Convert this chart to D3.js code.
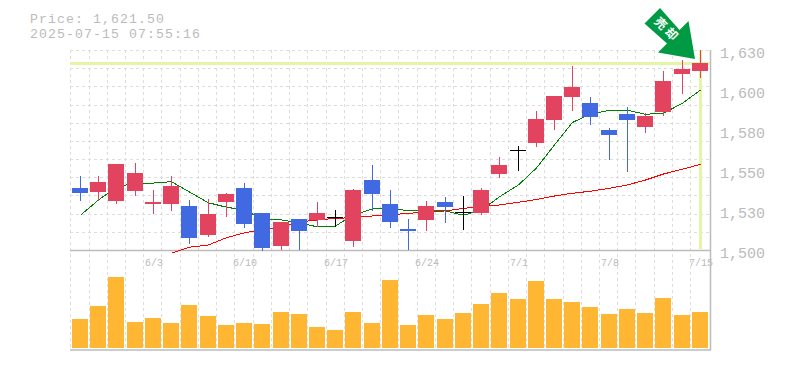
<!DOCTYPE html>
<html>
<head>
<meta charset="utf-8">
<script src="https://cdn.jsdelivr.net/npm/d3@7"></script>
<style>
html,body{margin:0;padding:0;background:#fff;}
svg{display:block;}
text{font-family:"Liberation Mono",monospace;fill:#bbb;}
</style>
</head>
<body>
<div id="chart"></div>
<script>
var priceLabel="Price: 1,621.50";
var timeLabel="2025-07-15 07:55:16";
var lastPrice=1621.5;

var opens =[1540.3,1537.7,1531.9,1538.4,1529.9,1529.9,1528.6,1509.8,1531.2,1540.3,1524,1502.6,1520.2,1519.5,1521.6,1505.9,1545.5,1529.9,1513.7,1519.5,1531.2,1524.7,1524,1549.4,1565,1569.6,1584.5,1599.5,1595.6,1578,1588.4,1580,1589.7,1614.4,1616.4];
var highs =[1548.1,1548.1,1555.9,1556.5,1539,1548.1,1532.5,1533.2,1537.1,1543.5,1524,1518.2,1520.2,1531.2,1526,1539.7,1555.3,1539,1520.2,1531.9,1534.5,1535.1,1540.3,1560.5,1567.6,1590.4,1600.1,1619.6,1599.5,1579.3,1593,1589.1,1616.4,1623.5,1630];
var lows  =[1531.9,1531.9,1529.9,1535.1,1523.4,1525.4,1503.9,1508.5,1521.4,1514.3,1499.5,1500,1500,1515,1515,1502,1525.4,1514.3,1500,1512.4,1517.6,1513,1522.7,1546.8,1551.4,1567,1578,1590.4,1581.3,1558.5,1550.7,1576.1,1587.1,1601.4,1611.8];
var closes=[1537.1,1544.2,1555.9,1550.1,1531.2,1541.6,1507.8,1523.4,1536.4,1516.9,1501.3,1518.2,1512.4,1524,1521.6,1539,1536.4,1518.2,1512.4,1528.6,1528,1524.7,1539,1555.3,1565,1585.2,1600.1,1606,1586.5,1574.8,1584.5,1587.1,1609.9,1617.7,1621.5];
var maShort=[1522.6,1532.5,1541,1543.5,1543.5,1544.4,1537.7,1530.7,1527.8,1526,1520.2,1519.5,1517.7,1515,1515.6,1522.8,1526.7,1527.3,1525.4,1526,1525.4,1522.6,1526,1534.6,1542.3,1553.3,1568.3,1582.9,1588.4,1590.8,1590.8,1588.2,1588.9,1595.4,1604];
var maLong=[null,null,null,null,null,1497.9,1501.8,1503.3,1508,1511.2,1513,1515.2,1518.2,1519.5,1520.6,1521,1522.1,1522.8,1523.9,1524.5,1525.4,1527.1,1528.2,1529.3,1531,1532.8,1535.1,1536.9,1538.2,1540.1,1542.3,1545.5,1549.4,1552.5,1555.7];
var volumes=[29,42,71,26,30,25,43,32,23,25,24,36,34,21,18,36,25,68,23,33,29,35,44,55,49,67,49,46,41,34,39,35,50,33,36];
var dateLabels=["6/3","6/10","6/17","6/24","7/1","7/8","7/15"];
var dateIndex=[4,9,14,19,24,29,34];
var priceTicks=[1500,1526,1552,1578,1604,1630];

var width=785,height=370;
var plotLeft=70,plotRight=710,plotTop=50,plotMid=250,plotBottom=350;

var svg=d3.select("#chart").append("svg").attr("width",width).attr("height",height);

var x=d3.scaleBand().domain(d3.range(opens.length)).range([70.3,708.35]);
var y=d3.scaleLinear().domain([1500,1630]).range([plotMid,plotTop]);
var yVol=d3.scaleLinear().domain([0,100]).range([348,248]);
var bw=x.bandwidth();
function bodyLeft(i){return Math.round(x(i)+1.7);}
function center(i){return bodyLeft(i)+8;}

// grid
var hGrid=d3.range(0,12).map(function(k){return plotTop+k*(plotMid-plotTop)/11;});
svg.append("g").selectAll("line").data(hGrid).enter().append("line")
    .attr("x1",plotLeft).attr("x2",plotRight)
    .attr("y1",function(d){return Math.round(d)+0.5;}).attr("y2",function(d){return Math.round(d)+0.5;})
    .attr("stroke","#ddd").attr("stroke-dasharray","3,3");
svg.append("g").selectAll("line").data(d3.range(opens.length)).enter().append("line")
    .attr("x1",function(d){return Math.round(x(d))+0.5;}).attr("x2",function(d){return Math.round(x(d))+0.5;})
    .attr("y1",plotTop).attr("y2",plotBottom)
    .attr("stroke","#ddd").attr("stroke-dasharray","3,3");

// frame
svg.append("line").attr("x1",plotLeft).attr("x2",plotRight+1).attr("y1",plotMid+0.5).attr("y2",plotMid+0.5).attr("stroke","#bbb").attr("stroke-width",1.5);
svg.append("line").attr("x1",plotLeft).attr("x2",plotRight+1).attr("y1",plotBottom).attr("y2",plotBottom).attr("stroke","#bbb").attr("stroke-width",1.5);
svg.append("line").attr("x1",plotRight+0.5).attr("x2",plotRight+0.5).attr("y1",plotTop).attr("y2",plotBottom).attr("stroke","#bbb").attr("stroke-width",1.5);

// current price marker
svg.append("rect").attr("x",plotLeft).attr("width",plotRight-plotLeft).attr("y",Math.round(y(lastPrice))-1).attr("height",3).attr("fill","#e4f5a8");
svg.append("rect").attr("x",center(34)-1).attr("width",3).attr("y",plotTop).attr("height",plotMid-plotTop-1).attr("fill","#e4f5a8");

// labels
svg.append("text").attr("x",30).attr("y",23).style("font-size","13.2px").style("letter-spacing","1.08px").text(priceLabel);
svg.append("text").attr("x",30).attr("y",38).style("font-size","13.2px").style("letter-spacing","1.08px").text(timeLabel);
svg.append("g").selectAll("text").data(priceTicks).enter().append("text")
    .attr("x",720).attr("y",function(d){return y(d)+7.5;}).style("font-size","15px")
    .text(function(d){return d3.format(",")(Math.round(d/10)*10);});
svg.append("g").selectAll("text").data(dateLabels).enter().append("text")
    .attr("text-anchor","middle")
    .attr("x",function(d,i){return center(dateIndex[i])+1;}).attr("y",266).style("font-size","10px")
    .text(function(d){return d;});

// volume
svg.append("g").selectAll("rect").data(volumes).enter().append("rect")
    .attr("x",function(d,i){return bodyLeft(i);}).attr("width",16)
    .attr("y",function(d){return yVol(d);}).attr("height",function(d){return yVol(0)-yVol(d);})
    .attr("fill","#ffb733");

function candleColor(i){
    if(closes[i]>opens[i]) return "#e2445f";
    if(closes[i]<opens[i]) return "#4169e1";
    return "#000";
}

// moving averages
var lineGen=d3.line().defined(function(d){return d!=null;})
    .x(function(d,i){return center(i)+0.5;}).y(function(d){return y(d);});
svg.append("path").attr("d",lineGen(maShort)).attr("fill","none").attr("stroke","#008000").attr("stroke-width",1).attr("shape-rendering","crispEdges");
svg.append("path").attr("d",lineGen(maLong)).attr("fill","none").attr("stroke","#f00").attr("stroke-width",1).attr("shape-rendering","crispEdges");

// candles
var idx=d3.range(opens.length);
var candle=svg.append("g");
candle.selectAll("line").data(idx).enter().append("line")
    .attr("x1",function(i){return center(i)+0.5;}).attr("x2",function(i){return center(i)+0.5;})
    .attr("y1",function(i){return Math.round(y(highs[i]));}).attr("y2",function(i){return Math.round(y(lows[i]));})
    .attr("stroke",candleColor).attr("stroke-width",1);
candle.selectAll("rect").data(idx).enter().append("rect")
    .attr("x",bodyLeft).attr("width",16)
    .attr("y",function(i){return Math.round(y(Math.max(opens[i],closes[i])));})
    .attr("height",function(i){return Math.max(1,Math.round(y(Math.min(opens[i],closes[i])))-Math.round(y(Math.max(opens[i],closes[i]))));})
    .attr("fill",candleColor);

// arrow badge
svg.append("polygon").attr("points","660,8 644.5,23.5 667,43.5 658,52.5 695,59 688.5,21 679.5,30").attr("fill","#009944");
svg.append("text").attr("transform","translate(667,30) rotate(45)")
    .attr("text-anchor","middle").attr("y",4)
    .style("font-family","'Noto Sans CJK JP'").style("font-size","12px").style("font-weight","700").style("letter-spacing","3px").style("fill","#fff")
    .text("売却");
</script>
</body>
</html>
